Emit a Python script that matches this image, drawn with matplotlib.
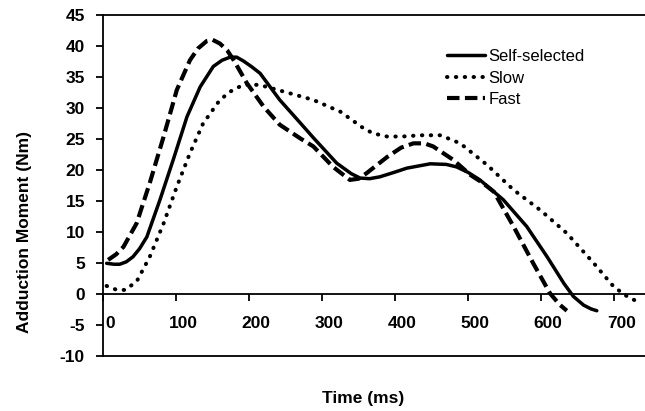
import matplotlib
matplotlib.use("Agg")
import matplotlib.pyplot as plt
import matplotlib.transforms as mtransforms

plt.rcParams["axes.unicode_minus"] = False

# Data
self_t = [5, 15, 23, 32, 41, 50, 60, 78, 96, 115, 133, 151, 163, 174, 183, 192, 203, 215, 242, 270, 288, 320, 340, 352, 365, 379, 398, 416, 448, 470, 484, 500, 516, 548, 580, 608, 631, 644, 658, 668, 676]
self_v = [4.95, 4.8, 4.8, 5.2, 6.0, 7.3, 9.2, 15.2, 21.6, 28.6, 33.4, 36.7, 37.7, 38.2, 38.2, 37.6, 36.7, 35.6, 31.3, 27.6, 25.2, 21.1, 19.4, 18.7, 18.6, 18.9, 19.6, 20.3, 21.0, 20.9, 20.5, 19.6, 18.4, 15.2, 10.9, 6.0, 1.7, -0.4, -1.8, -2.4, -2.7]

slow_t = [5, 18, 30, 46, 64, 83, 101, 119, 137, 160, 175, 188, 200, 215, 252, 288, 325, 357, 370, 389, 410, 434, 462, 489, 526, 562, 599, 635, 672, 699, 715, 731]
slow_v = [1.3, 0.7, 0.65, 2.0, 6.0, 11.4, 17.3, 22.7, 27.5, 31.3, 32.7, 33.5, 33.8, 33.7, 32.5, 31.3, 29.4, 26.7, 25.9, 25.4, 25.4, 25.6, 25.6, 24.3, 20.8, 16.8, 13.5, 9.8, 4.95, 1.2, -0.2, -1.2]

fast_t = [7, 18, 28, 46, 64, 83, 101, 119, 130, 142, 150, 160, 170, 179, 197, 220, 242, 270, 288, 315, 338, 350, 361, 375, 389, 408, 425, 440, 452, 480, 503, 520, 535, 562, 589, 612, 625, 635]
fast_v = [5.5, 6.4, 7.6, 11.4, 17.9, 25.4, 32.9, 37.7, 39.6, 40.8, 41.0, 40.4, 39.3, 37.7, 34.0, 30.2, 27.3, 25.1, 23.8, 20.5, 18.4, 18.6, 19.5, 20.8, 22.1, 23.6, 24.3, 24.3, 23.8, 21.6, 19.2, 17.9, 16.5, 10.9, 4.95, 0.1, -1.7, -2.7]

series_labels = ["Self-selected", "Slow", "Fast"]
x_ticks = [0, 100, 200, 300, 400, 500, 600, 700]
y_ticks = [-10, -5, 0, 5, 10, 15, 20, 25, 30, 35, 40, 45]

W, H = 645, 411
fig = plt.figure(figsize=(W / 100, H / 100), dpi=100)
left, right, top, bottom = 103, 645, 15, 356
ax = fig.add_axes([left / W, 1 - bottom / H, (right - left) / W, (bottom - top) / H])

font = "Liberation Sans"
ax.plot(self_t, self_v, color="black", lw=2.5, linestyle="-", label=series_labels[0],
        solid_capstyle="round", solid_joinstyle="round")
ax.plot(slow_t, slow_v, color="black", lw=2.9, linestyle=(0, (0.1, 2.1)), label=series_labels[1],
        dash_capstyle="round")
ax.plot(fast_t, fast_v, color="black", lw=3.0, linestyle=(0, (3, 1.3)), label=series_labels[2],
        dash_capstyle="butt", dash_joinstyle="round")

ax.set_xlim(0, 742)
ax.set_ylim(-10, 45)

ax.spines["right"].set_visible(False)
ax.spines["bottom"].set_position(("data", 0))
for s in ["left", "top", "bottom"]:
    ax.spines[s].set_linewidth(1.3)
ax.axhline(-10, color="black", lw=1.3, clip_on=False)

ax.set_xticks(x_ticks)
ax.set_yticks(y_ticks)
ax.tick_params(axis="both", direction="out", length=5, width=1.3, labelsize=12.5)
ax.tick_params(axis="y", pad=8)
ax.tick_params(axis="x", pad=11)
for lab in ax.get_xticklabels() + ax.get_yticklabels():
    lab.set_fontfamily(font)
    lab.set_fontweight("bold")
offset = mtransforms.ScaledTranslation(7 / 100, 0, fig.dpi_scale_trans)
for lab in ax.get_xticklabels():
    lab.set_transform(lab.get_transform() + offset)

fig.text(363 / W, 1 - 398 / H, "Time (ms)", ha="center", va="center",
         fontsize=12.5, fontweight="bold", fontfamily=font)
fig.text(25 / W, 1 - 232 / H, "Adduction Moment (Nm)", ha="center", va="center",
         rotation=90, fontsize=12.5, fontweight="bold", fontfamily=font)

leg = ax.legend(loc="upper left", bbox_to_anchor=(447 / W, 1 - 49 / H),
                bbox_transform=fig.transFigure, frameon=False,
                prop={"family": font, "size": 12}, handlelength=2.3,
                handletextpad=0.2, labelspacing=0.4, borderaxespad=0, borderpad=0)

fig.savefig("out.png", dpi=100)
